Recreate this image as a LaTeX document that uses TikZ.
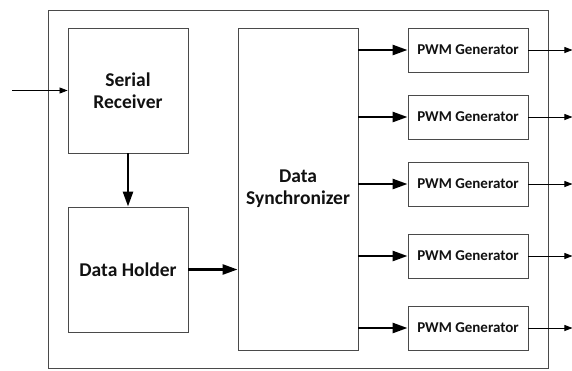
\documentclass[tikz,border=0pt]{standalone}
\usepackage{fontspec}
\setmainfont{Carlito}
\usetikzlibrary{arrows.meta}
\definecolor{edge}{HTML}{4A4A4A}
\definecolor{ink}{HTML}{111111}
\begin{document}
\begin{tikzpicture}[x=1pt,y=-1pt,
  block/.style={draw=edge,line width=0.9pt,fill=white,minimum width=120pt,
    inner sep=0pt,align=center,font=\bfseries\fontsize{19.5}{22}\selectfont,text=ink},
  pwm/.style={block,minimum height=44pt,font=\bfseries\fontsize{15}{18}\selectfont},
  bus/.style={draw=black,line width=2.6pt,-{Triangle[length=15pt,width=10pt]}},
  wire/.style={draw=black,line width=0.8pt,-{Triangle[length=8pt,width=6pt]}}]
\useasboundingbox (0,0) rectangle (572,370);
% enclosing frame
\node[draw=edge,line width=0.9pt,minimum width=500pt,minimum height=358pt,inner sep=0pt] (frame) at (298,189) {};
% main blocks
\node[block,minimum height=125pt] (sr) at (128,90.5) {Serial\\Receiver};
\node[block,minimum height=125pt] (dh) at (128,269.5) {Data Holder};
\node[block,minimum height=322pt] (sync) at (298,189) {Data\\Synchronizer};
% PWM generators
\node[pwm] (p1) at (468,50) {PWM Generator};
\node[pwm] (p2) at (468,117) {PWM Generator};
\node[pwm] (p3) at (468,184) {PWM Generator};
\node[pwm] (p4) at (468,256) {PWM Generator};
\node[pwm] (p5) at (468,328) {PWM Generator};
% input and data path
\coordinate (in) at (12,90.5);
\draw[wire] (in) -- (sr.west);
\draw[bus] (sr.south) -- (dh.north);
\draw[bus] (dh.east) -- (dh.east -| sync.west);
% synchronizer fan-out and outputs
\foreach \p in {p1,p2,p3,p4,p5}{
  \draw[bus] (sync.east |- \p.west) -- (\p.west);
  \coordinate (\p out) at ([xshift=44pt]\p.east);
  \draw[wire] (\p.east) -- (\p out);
}
\end{tikzpicture}
\end{document}
